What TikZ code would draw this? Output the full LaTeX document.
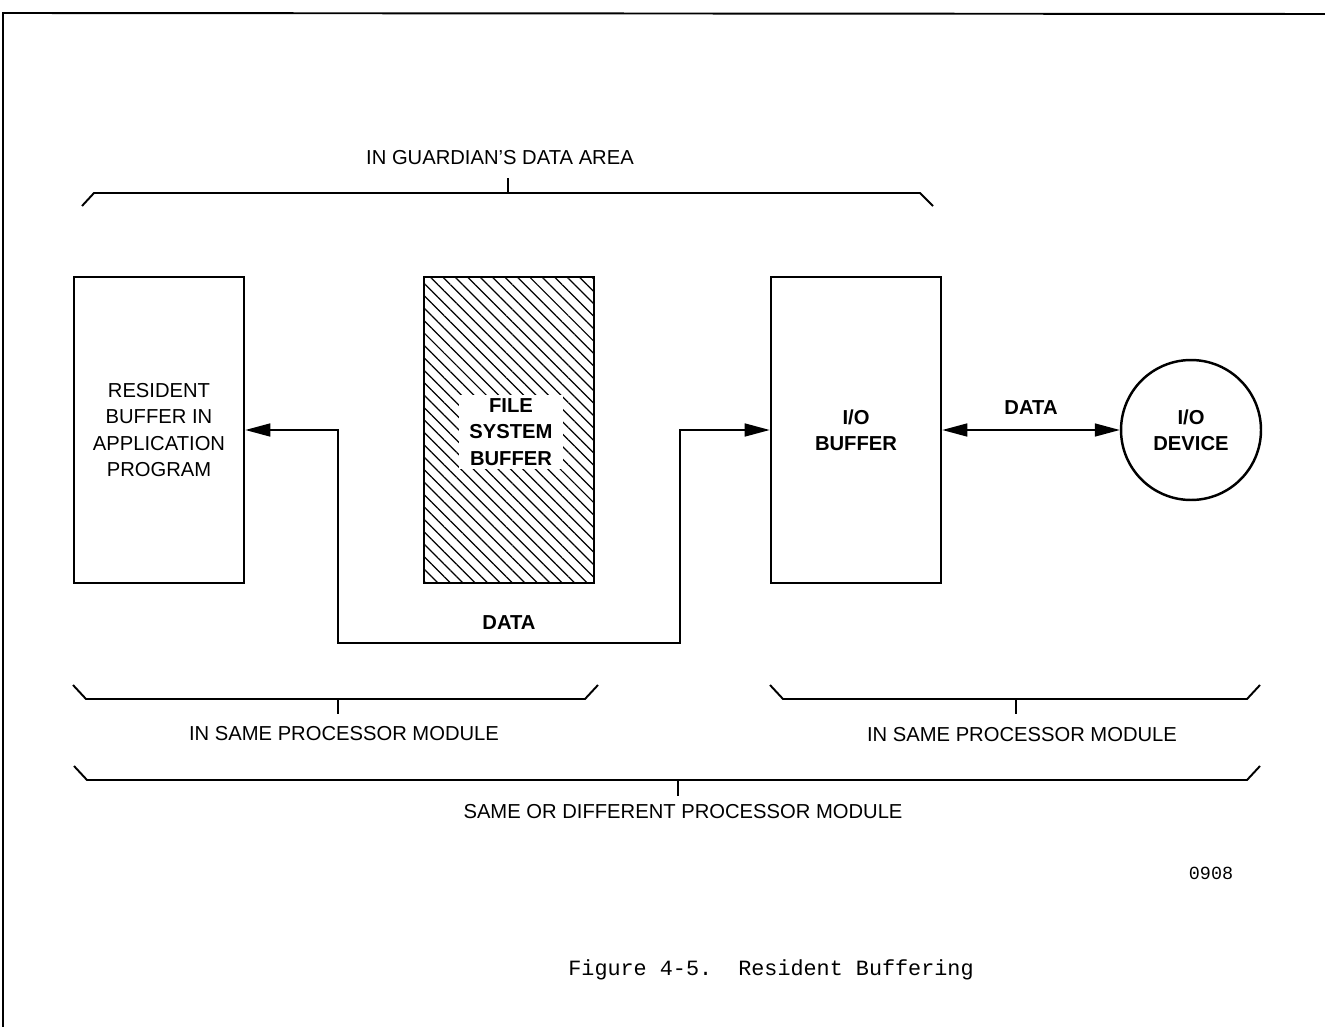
\documentclass[tikz,border=0pt]{standalone}
\usepackage{fontspec}
\setmainfont{Liberation Sans}
\newfontfamily\capfont{Liberation Mono}
\usetikzlibrary{arrows.meta,patterns.meta}

\tikzset{
  buf/.style={draw, line width=1.5pt, minimum width=3.4cm, minimum height=6.12cm,
    align=center, font=\fontsize{11.5}{15}\selectfont},
  flow/.style={line width=0.9pt, <->, >={Triangle[length=0.5cm,width=0.26cm]}},
  brk/.style={line width=1.1pt},
  lbl/.style={font=\fontsize{11.5}{14}\selectfont},
}

\begin{document}
\begin{tikzpicture}[x=0.02cm, y=-0.02cm]
  \useasboundingbox (0,0) rectangle (1325,1027);
  % page frame
  \draw[line width=1.1pt] (3,1027) -- (3,13) -- (1325,14);

  % buffers
  \node[buf] (resbuf) at (159,430) {RESIDENT\\BUFFER IN\\APPLICATION\\PROGRAM};
  \node[buf, pattern={Lines[angle=-45,distance=5pt,line width=0.7pt]}] (fsb) at (509,430) {};
  \node[fill=white, inner xsep=6pt, inner ysep=2pt, align=center,
    font=\fontsize{11.5}{15}\selectfont\bfseries] (fsbtext) at (511,432) {FILE\\SYSTEM\\BUFFER};
  \node[buf, font=\fontsize{11.5}{15}\selectfont\bfseries] (iobuf) at (856,430) {I/O\\BUFFER};
  \node[draw, circle, line width=1.4pt, minimum size=2.8cm, align=center,
    font=\fontsize{11.5}{15}\selectfont\bfseries] (device) at (1191,430) {I/O\\DEVICE};

  % data paths
  \coordinate (dataL) at (338,643);
  \coordinate (dataR) at (680,643);
  \draw[flow] (resbuf.east) -| (dataL) -- node[above=4pt, lbl, font=\fontsize{11.5}{14}\selectfont\bfseries] (datalow) {DATA} (dataR) |- (iobuf.west);
  \draw[flow] (iobuf.east) -- node[above=5pt, lbl, font=\fontsize{11.5}{14}\selectfont\bfseries] (datadev) {DATA} (device.west);

  % brackets
  \draw[brk] (82,206) -- (94,193) -- (920,193) -- (933,206);
  \draw[brk] (508,193) -- (508,178);
  \node[lbl] (guardian) at (500,158) {IN GUARDIAN'S DATA AREA};

  \draw[brk] (73,685) -- (86,699) -- (585,699) -- (598,685);
  \draw[brk] (338,699) -- (338,714);
  \node[lbl] (samemodL) at (344,734) {IN SAME PROCESSOR MODULE};

  \draw[brk] (770,685) -- (783,699) -- (1247,699) -- (1260,685);
  \draw[brk] (1016,699) -- (1016,714);
  \node[lbl] (samemodR) at (1022,735) {IN SAME PROCESSOR MODULE};

  \draw[brk] (74,766) -- (87,780) -- (1247,780) -- (1260,766);
  \draw[brk] (678,780) -- (678,796);
  \node[lbl] (anymod) at (683,812) {SAME OR DIFFERENT PROCESSOR MODULE};

  \node[font=\capfont\fontsize{10.5}{12}\selectfont] (fignum) at (1211,873) {0908};
  \node[font=\capfont\fontsize{12.4}{14}\selectfont] (caption) at (771,970) {Figure 4-5.\ \ Resident Buffering};
\end{tikzpicture}
\end{document}
